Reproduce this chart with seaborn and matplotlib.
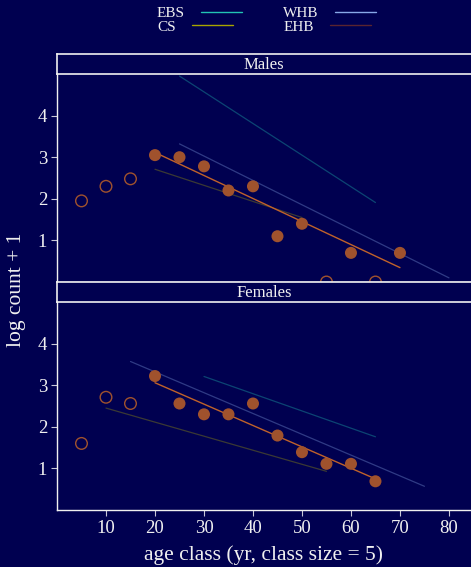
import numpy as np
import pandas as pd
import matplotlib
matplotlib.use("Agg")
import matplotlib.pyplot as plt
from matplotlib.lines import Line2D
import seaborn as sns

# data
ages = [5, 10, 15, 20, 25, 30, 35, 40, 45, 50, 55, 60, 65, 70]
males_y = [1.95, 2.30, 2.48, 3.05, 3.00, 2.78, 2.20, 2.30, 1.10, 1.40, 0.0, 0.70, 0.0, 0.70]
males_used = [False, False, False, True, True, True, True, True, True, True, False, True, False, True]
fem_ages = [5, 10, 15, 20, 25, 30, 35, 40, 45, 50, 55, 60, 65]
fem_y = [1.60, 2.71, 2.56, 3.22, 2.56, 2.30, 2.30, 2.56, 1.79, 1.39, 1.11, 1.11, 0.69]
fem_used = [False, False, False, True, True, True, True, True, True, True, True, True, True]

# regression lines of other stocks: (age start, age end, y start, y end)
stocks = ["EBS", "CS", "WHB", "EHB"]
stock_colors = ["#22C4B4", "#A8A400", "#88A8E8", "#5A2430"]
males_lines = {"EBS": (25, 65, 4.95, 1.91), "CS": (20, 50, 2.71, 1.55), "WHB": (25, 80, 3.32, 0.10)}
fem_lines = {"EBS": (30, 65, 3.21, 1.76), "CS": (10, 55, 2.45, 0.93), "WHB": (15, 75, 3.57, 0.57)}

bg = "#000050"
pt = "#A0522D"
fg = "#F0F0F0"

sns.set_style("dark")
plt.rcParams["font.family"] = ["Liberation Serif", "DejaVu Serif"]
plt.rcParams["text.color"] = fg
plt.rcParams["axes.labelcolor"] = fg
plt.rcParams["xtick.color"] = "#C8C8D8"
plt.rcParams["ytick.color"] = "#C8C8D8"
plt.rcParams["xtick.labelcolor"] = fg
plt.rcParams["ytick.labelcolor"] = fg

fig = plt.figure(figsize=(4.71, 5.67), dpi=100, facecolor=bg)
W, H = 471, 567


def box(x0, y0, x1, y1):
    return [x0 / W, 1 - y1 / H, (x1 - x0) / W, (y1 - y0) / H]


def panel(top, title, xs, ys, used, lines, bottom_axis):
    ax = fig.add_axes(box(57, top + 20, 471, top + 228))
    ax.set_facecolor(bg)
    df = pd.DataFrame({"age": xs, "y": ys, "used": used})
    for name, (a0, a1, y0, y1) in lines.items():
        c = stock_colors[stocks.index(name)]
        sns.lineplot(x=[a0, a1], y=[y0, y1], ax=ax, color=c, lw=0.9, alpha=0.35)
    sub = df[df["used"]]
    sns.regplot(data=sub, x="age", y="y", ax=ax, scatter=False, ci=None,
                truncate=True, line_kws={"color": "#C0622A", "lw": 1.0})
    sns.scatterplot(data=sub, x="age", y="y", ax=ax, color=pt, s=75,
                    edgecolor="none", clip_on=False, zorder=5)
    sns.scatterplot(data=df[~df["used"]], x="age", y="y", ax=ax, s=70,
                    facecolor="none", edgecolor=pt, linewidth=1.0,
                    clip_on=False, zorder=5)
    ax.set_xlim(0, 84.5)
    ax.set_ylim(0, 5)
    ax.set_yticks([1, 2, 3, 4])
    ax.tick_params(axis="y", length=4, width=0.8, labelsize=13.5, pad=3, left=True)
    ax.set_ylabel("")
    ax.grid(False)
    for s in ["top", "right"]:
        ax.spines[s].set_visible(False)
    ax.spines["left"].set_color(fg)
    ax.spines["bottom"].set_color(fg)
    ax.spines["left"].set_linewidth(1.0)
    ax.spines["bottom"].set_linewidth(1.0)
    if bottom_axis:
        ax.set_xticks([10, 20, 30, 40, 50, 60, 70, 80])
        ax.tick_params(axis="x", length=4, width=0.8, labelsize=13.5, pad=3, bottom=True)
        ax.set_xlabel("age class (yr, class size = 5)", fontsize=15.5, labelpad=6)
    else:
        ax.set_xticks([])
        ax.set_xlabel("")

    strip = fig.add_axes(box(57, top, 471 + 3, top + 20))
    strip.set_zorder(10)
    strip.set_facecolor(bg)
    strip.set_xticks([])
    strip.set_yticks([])
    for s in ["top", "bottom", "left"]:
        strip.spines[s].set_color(fg)
        strip.spines[s].set_linewidth(1.2)
    strip.spines["right"].set_visible(False)
    strip.text(0.5 * 471 / 474, 0.45, title, ha="center", va="center",
               fontsize=12, color=fg, transform=strip.transAxes)
    return ax


ax1 = panel(54, "Males", ages, males_y, males_used, males_lines, False)
ax2 = panel(282, "Females", fem_ages, fem_y, fem_used, fem_lines, True)
fig.text(17 / W, 1 - 290 / H, "log count + 1", rotation=90, ha="center",
         va="center", fontsize=15.5, color=fg)

handles = [Line2D([], [], color=c, lw=1.0) for c in stock_colors]
leg = fig.legend(handles, stocks, loc="upper center", bbox_to_anchor=(0.566, 1.008),
                 ncol=2, frameon=False, fontsize=11, markerfirst=True,
                 handlelength=2.7, columnspacing=2.7, handletextpad=1.05,
                 labelspacing=0.0, borderaxespad=0.3)
for t in leg.get_texts():
    t.set_color(fg)
# text first, then line
for row in leg._legend_handle_box.get_children():
    for item in row.get_children():
        item._children = item._children[::-1]

fig.savefig("out.png", dpi=100, facecolor=bg)
